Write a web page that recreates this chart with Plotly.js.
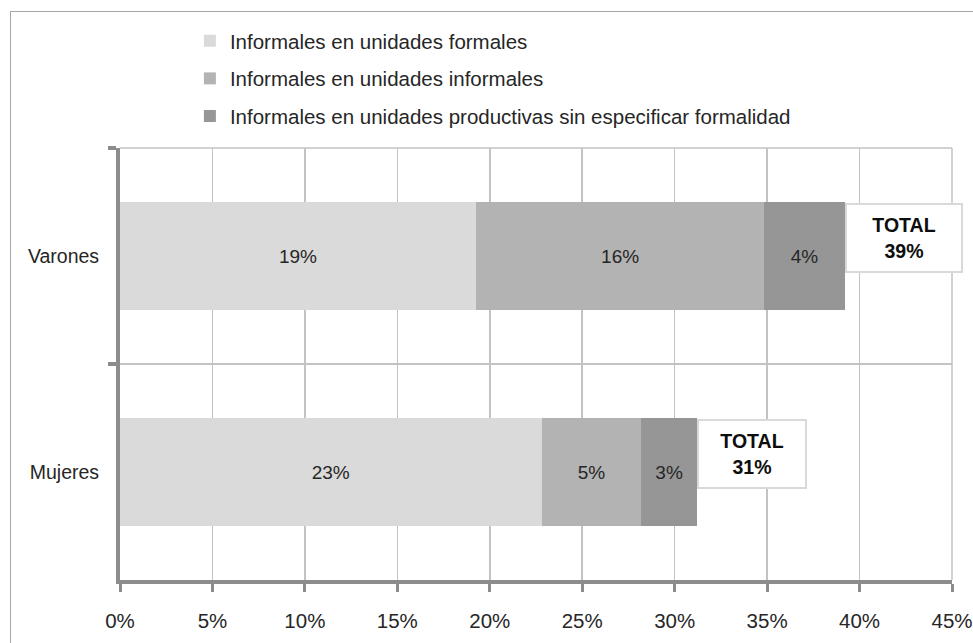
<!DOCTYPE html>
<html>
<head>
<meta charset="utf-8">
<script src="https://cdn.plot.ly/plotly-3.0.1.min.js"></script>
<style>
  html, body { margin: 0; padding: 0; background: #ffffff; overflow: hidden; }
  #wrap { position: relative; width: 973px; height: 643px; }
  #chart { position: absolute; left: 0; top: 0; width: 973px; height: 643px; }
  #frame { position: absolute; left: 10px; top: 11px; width: 1000px; height: 700px;
           border: 1.5px solid #a6a6a6; pointer-events: none; }
</style>
</head>
<body>
<div id="wrap">
  <div id="chart"></div>
  <div id="frame"></div>
</div>
<script>
const categories = ['Varones', 'Mujeres'];
const seriesNames = [
  'Informales en unidades formales',
  'Informales en unidades informales',
  'Informales en unidades productivas sin especificar formalidad'
];
const formales = [19.25, 22.8];
const informales = [15.6, 5.4];
const sinEspecificar = [4.35, 3.0];
const xTickVals = [0, 5, 10, 15, 20, 25, 30, 35, 40, 45];
const colors = ['#dadada', '#b3b3b3', '#969696'];

const FONT = '"Liberation Sans Narrow", "Liberation Sans", Arial, sans-serif';
const values = [formales, informales, sinEspecificar];
const totals = categories.map((c, i) => formales[i] + informales[i] + sinEspecificar[i]);

const traces = values.map((v, k) => ({
  type: 'bar',
  orientation: 'h',
  name: seriesNames[k],
  legendgroup: 'g' + k,
  y: categories,
  x: v,
  marker: { color: colors[k], line: { width: 0 } },
  text: v.map(val => Math.round(val) + '%'),
  textposition: 'inside',
  insidetextanchor: 'middle',
  textangle: 0,
  constraintext: 'none',
  textfont: { family: FONT, size: 19, color: '#262626' },
  hoverinfo: 'skip'
}));

const boxWidths = [110, 102];
const annotations = categories.map((c, i) => ({
  x: totals[i],
  y: c,
  xref: 'x',
  yref: 'y',
  xanchor: 'left',
  yanchor: 'middle',
  yshift: 18,
  showarrow: false,
  text: '<b>TOTAL<br>' + Math.round(totals[i]) + '%</b>',
  font: { family: FONT, size: 19.5, color: '#0d0d0d' },
  align: 'center',
  bgcolor: '#ffffff',
  bordercolor: '#d9d9d9',
  borderwidth: 2,
  borderpad: 2,
  width: boxWidths[i],
  height: 62
}));

const layout = {
  width: 973,
  height: 643,
  margin: { l: 120, r: 21, t: 148, b: 63 },
  paper_bgcolor: 'rgba(0,0,0,0)',
  plot_bgcolor: '#ffffff',
  barmode: 'stack',
  bargap: 0.5,
  font: { family: FONT, size: 20, color: '#262626' },
  showlegend: true,
  legend: {
    x: 0.084,
    xanchor: 'left',
    y: 1.028,
    yanchor: 'bottom',
    yref: 'paper',
    orientation: 'v',
    traceorder: 'grouped',
    tracegroupgap: 8,
    itemwidth: 30,
    bgcolor: 'rgba(0,0,0,0)',
    font: { family: FONT, size: 20.5, color: '#262626' }
  },
  xaxis: {
    range: [0, 45],
    tickvals: xTickVals,
    ticktext: xTickVals.map(v => v + '%'),
    ticks: 'outside',
    ticklen: 8,
    tickwidth: 3,
    tickcolor: '#8c8c8c',
    showline: true,
    linecolor: '#8c8c8c',
    linewidth: 4,
    showgrid: true,
    gridcolor: '#c3c3c3',
    gridwidth: 1.5,
    zeroline: false,
    ticklabelstandoff: 11,
    tickfont: { family: FONT, size: 20.5, color: '#262626' },
    fixedrange: true
  },
  yaxis: {
    type: 'category',
    autorange: 'reversed',
    tickson: 'boundaries',
    ticks: 'outside',
    ticklen: 8,
    tickwidth: 4,
    tickcolor: '#8c8c8c',
    showline: true,
    linecolor: '#8c8c8c',
    linewidth: 4,
    showgrid: true,
    gridcolor: '#c3c3c3',
    gridwidth: 1.5,
    zeroline: false,
    ticklabelstandoff: 13,
    tickfont: { family: FONT, size: 19.5, color: '#262626' },
    fixedrange: true
  },
  shapes: [
    { type: 'line', xref: 'paper', yref: 'paper', x0: 0, x1: 1, y0: 1, y1: 1,
      line: { color: '#c3c3c3', width: 1.5 }, layer: 'below' },
    { type: 'line', xref: 'paper', yref: 'paper', x0: 1, x1: 1, y0: 0, y1: 1,
      line: { color: '#c3c3c3', width: 1.5 }, layer: 'below' }
  ],
  annotations: annotations
};

Plotly.newPlot('chart', traces, layout, { displayModeBar: false, staticPlot: true });
</script>
</body>
</html>
